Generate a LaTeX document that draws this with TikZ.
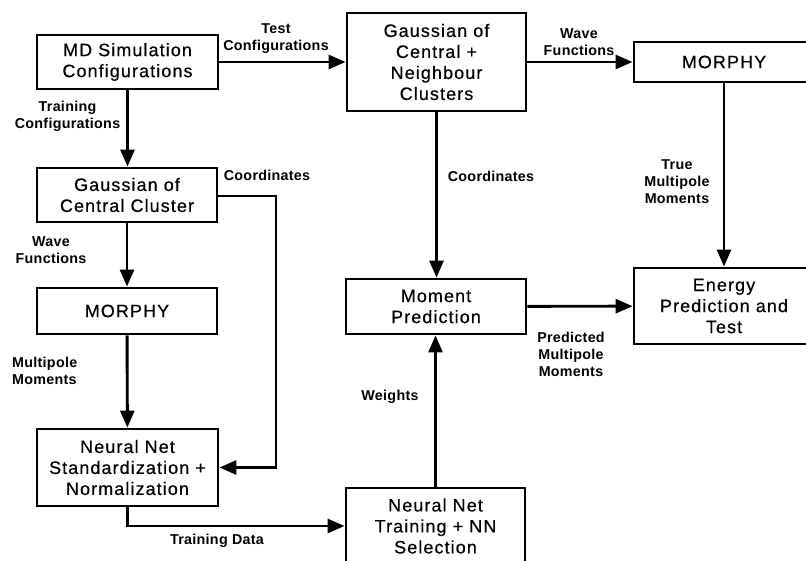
\documentclass[tikz,border=0pt]{standalone}
\usepackage{fontspec}
\setmainfont{Liberation Sans}
\newfontfamily\boxfont[LetterSpace=6,FakeBold=0.4]{Liberation Sans}
\newfontfamily\lblfont[LetterSpace=2]{Liberation Sans}
\usetikzlibrary{arrows.meta}
\tikzset{
  blk/.style={draw, line width=2.9pt, fill=white, inner sep=0pt, align=center,
    font=\boxfont\fontsize{18}{21}\selectfont},
  lbl/.style={inner sep=0pt, align=center, font=\lblfont\bfseries\fontsize{14.3}{17}\selectfont},
  arr/.style={line width=2.9pt, -{Triangle[length=17pt,width=14pt]}},
  ln/.style={line width=2.9pt}
}
\begin{document}
\begin{tikzpicture}[x=1pt,y=-1pt]
\useasboundingbox (0,0) rectangle (806,561);
\clip (0,0) rectangle (806,561);
\fill[white] (0,0) rectangle (806,561);
\node[blk, minimum width=181, minimum height=54] (md) at (127.5,62) {MD Simulation\\Configurations};
\node[blk, minimum width=179, minimum height=98] (gcn) at (436.5,62) {Gaussian of\\Central +\\Neighbour\\Clusters};
\node[blk, minimum width=180, minimum height=40] (mor2) at (724,62) {MORPHY};
\node[blk, minimum width=180, minimum height=54] (gcc) at (127,195) {Gaussian of\\Central Cluster};
\node[blk, minimum width=180, minimum height=46] (mor1) at (127,311) {MORPHY};
\node[blk, minimum width=181, minimum height=77] (nns) at (127.5,467.5) {Neural Net\\Standardization +\\Normalization};
\node[blk, minimum width=180, minimum height=55] (mp) at (436,306.5) {Moment\\Prediction};
\node[blk, minimum width=180, minimum height=76] (en) at (724,306) {Energy\\Prediction and\\Test};
\node[blk, minimum width=179, minimum height=76] (nnt) at (435.5,526) {Neural Net\\Training + NN\\Selection};

\draw[arr] (md) -- (gcn);
\draw[arr] (md.south) -- (md.south |- gcc.north);
\draw[arr] (gcn) -- (mor2);
\draw[arr] (gcc) -- (mor1);
\draw[arr] (mor1) -- (nns);
\coordinate (cr) at (276,196);
\draw[arr] (gcc.east |- cr) -- (cr) |- (nns.east);
\draw[arr] (gcn.south) -- (gcn.south |- mp.north);
\draw[arr] (mor2) -- (en);
\draw[arr] (mp) -- (en);
\draw[arr] (nnt.north) -- (nnt.north |- mp.south);
\draw[arr] (nns.south) |- (nnt.west);

\node[lbl] (l1) at (276,38.5) {Test\\Configurations};
\node[lbl] (l2) at (67.5,116.5) {Training\\Configurations};
\node[lbl] (l3) at (267,175) {Coordinates};
\node[lbl] (l4) at (51,250.5) {Wave\\Functions};
\node[lbl, align=left, anchor=west] (l5) at (12,370.5) {Multipole\\Moments};
\node[lbl] (l6) at (579,42.5) {Wave\\Functions};
\node[lbl] (l7) at (491,176) {Coordinates};
\node[lbl] (l8) at (677,182) {True\\Multipole\\Moments};
\node[lbl] (l9) at (571,354.5) {Predicted\\Multipole\\Moments};
\node[lbl] (l10) at (390,397) {Weights};
\node[lbl] (l11) at (217,541) {Training Data};
\end{tikzpicture}
\end{document}
